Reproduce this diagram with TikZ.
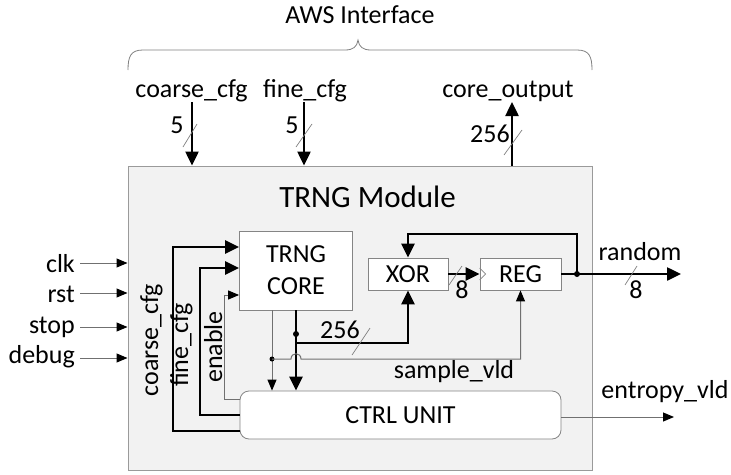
\documentclass[tikz,border=0pt]{standalone}
\usepackage{fontspec}
\setmainfont{Carlito}
\usetikzlibrary{arrows.meta}
\definecolor{modfill}{HTML}{F2F2F2}
\definecolor{modedge}{HTML}{9A9A9A}
\definecolor{boxedge}{HTML}{858585}
\definecolor{wire}{HTML}{707070}
\begin{document}
\begin{tikzpicture}[x=1pt,y=-1pt,
  every node/.style={font=\fontsize{26}{32}\selectfont, inner sep=0pt},
  blockbox/.style={draw=boxedge, fill=white, line width=0.8pt},
  bus/.style={line width=2.5pt, -{Triangle[length=14pt,width=13pt]}},
  busline/.style={line width=2.5pt},
  sig/.style={draw=wire, line width=1pt, -{Triangle[length=11pt,width=9pt,color=black]}},
  sigline/.style={draw=wire, line width=1pt},
  slashmark/.style={draw=gray, line width=0.7pt},
  jdot/.style={circle, fill=black, inner sep=0pt, minimum size=6pt}
]
\useasboundingbox (0,0) rectangle (731,474);

% module
\node[draw=modedge, fill=modfill, line width=1pt, minimum width=464pt, minimum height=304pt] (mod) at (360,318) {};
\node[anchor=base, font=\fontsize{31}{37}\selectfont] (title) at (367.5,207) {TRNG Module};

% AWS interface brace
\draw[draw=gray, line width=0.8pt] (128,70) .. controls (128,56) and (131,50) .. (143,50) -- (345,50)
  .. controls (353,50) and (357,47) .. (358,40) .. controls (359,47) and (363,50) .. (371,50)
  -- (577,50) .. controls (589,50) and (592,56) .. (592,70);
\node[anchor=base] (aws) at (360,23) {AWS Interface};

% blocks
\node[blockbox, minimum width=113pt, minimum height=79pt, align=center] (core) at (296,270.5) {TRNG\\CORE};
\node[blockbox, minimum width=80pt, minimum height=32pt] (xor) at (408,274) {XOR};
\node[blockbox, minimum width=81pt, minimum height=32pt] (reg) at (520.5,274) {REG};
\node[blockbox, rounded corners=9pt, minimum width=321pt, minimum height=48pt] (ctrl) at (400.5,415) {CTRL UNIT};
\draw[draw=boxedge, line width=0.6pt] (reg.west) ++(0,-6) -- ++(6,6) -- ++(-6,6);

% top interface
\node[anchor=base] (ccfg) at (191.5,97) {coarse\_cfg};
\node[anchor=base] (fcfg) at (305,97) {fine\_cfg};
\node[anchor=base] (cout) at (508,97) {core\_output};
\coordinate (ccfgA) at (192,102);
\coordinate (fcfgA) at (304,102);
\coordinate (coutA) at (512,102);
\draw[bus] (ccfgA) -- (ccfgA |- mod.north);
\draw[bus] (fcfgA) -- (fcfgA |- mod.north);
\draw[bus] (coutA |- mod.north) -- (coutA);
\draw[slashmark] (183,147) -- (197,124);
\draw[slashmark] (296,147) -- (312,124);
\draw[slashmark] (504,155) -- (522,130);
\node[anchor=base] (w1) at (177,133) {5};
\node[anchor=base] (w2) at (292,133) {5};
\node[anchor=base] (w3) at (490,142) {256};

% inputs
\node[anchor=base east] (clk) at (75,272) {clk};
\node[anchor=base east] (rst) at (75,302) {rst};
\node[anchor=base east] (stop) at (75,333) {stop};
\node[anchor=base east] (debug) at (75,363) {debug};
\coordinate (clkA) at (80,263);
\coordinate (rstA) at (80,293);
\coordinate (stopA) at (80,327);
\coordinate (debugA) at (80,358);
\draw[sig] (clkA) -- (clkA -| mod.west);
\draw[sig] (rstA) -- (rstA -| mod.west);
\draw[sig] (stopA) -- (stopA -| mod.west);
\draw[sig] (debugA) -- (debugA -| mod.west);

% CTRL -> core config lines
\coordinate (lc) at (173,247);
\coordinate (lf) at (200,268);
\coordinate (le) at (224,295);
\draw[bus] ([yshift=-16pt]ctrl.west) -| (lc) -- (lc -| core.west);
\draw[bus] (ctrl.west) -| (lf) -- (lf -| core.west);
\draw[sig] ([yshift=16pt]ctrl.west) -| (le) -- (le -| core.west);
\node[anchor=base, rotate=90] (lcoarse) at (158,340) {coarse\_cfg};
\node[anchor=base, rotate=90] (lfine) at (188,345) {fine\_cfg};
\node[anchor=base, rotate=90] (lenable) at (222,347) {enable};

% core outputs
\coordinate (j0) at (296,334);
\coordinate (b0) at (296,343);
\coordinate (tx) at (272,359);
\draw[bus] (core.south) -- (core.south |- ctrl.north);
\draw[bus] (b0) -| (xor.south);
\node[jdot] (d0) at (j0) {};
\draw[sig] (tx |- core.south) -- (tx |- ctrl.north);
\node[jdot, minimum size=5pt] (d1) at (tx) {};
\draw[sig] (tx) -- (291,359) .. controls (291,352) and (301,352) .. (301,359) -| (reg.south);
\draw[slashmark] (352,355) -- (370,328);
\node[anchor=base] (w4) at (340,338) {256};
\node[anchor=base] (svld) at (454,378) {sample\_vld};

% xor -> reg -> random
\draw[bus] (xor.east) -- (reg.west);
\draw[slashmark] (449,285) -- (462,266);
\node[anchor=base] (w5) at (462,298) {8};
\coordinate (j1) at (577,274);
\coordinate (fb) at (577,234);
\coordinate (rndA) at (681,274);
\draw[bus] (reg.east) -- (rndA);
\draw[bus] (j1) -- (fb) -| (xor.north);
\node[jdot] (d2) at (j1) {};
\draw[slashmark] (625,285) -- (637,266);
\node[anchor=base] (rnd) at (640,260) {random};
\node[anchor=base] (w6) at (636,298) {8};

% entropy valid
\coordinate (entA) at (674,417);
\draw[sig] (ctrl.east |- entA) -- (entA);
\node[anchor=base] (ent) at (665,398) {entropy\_vld};
\end{tikzpicture}
\end{document}
